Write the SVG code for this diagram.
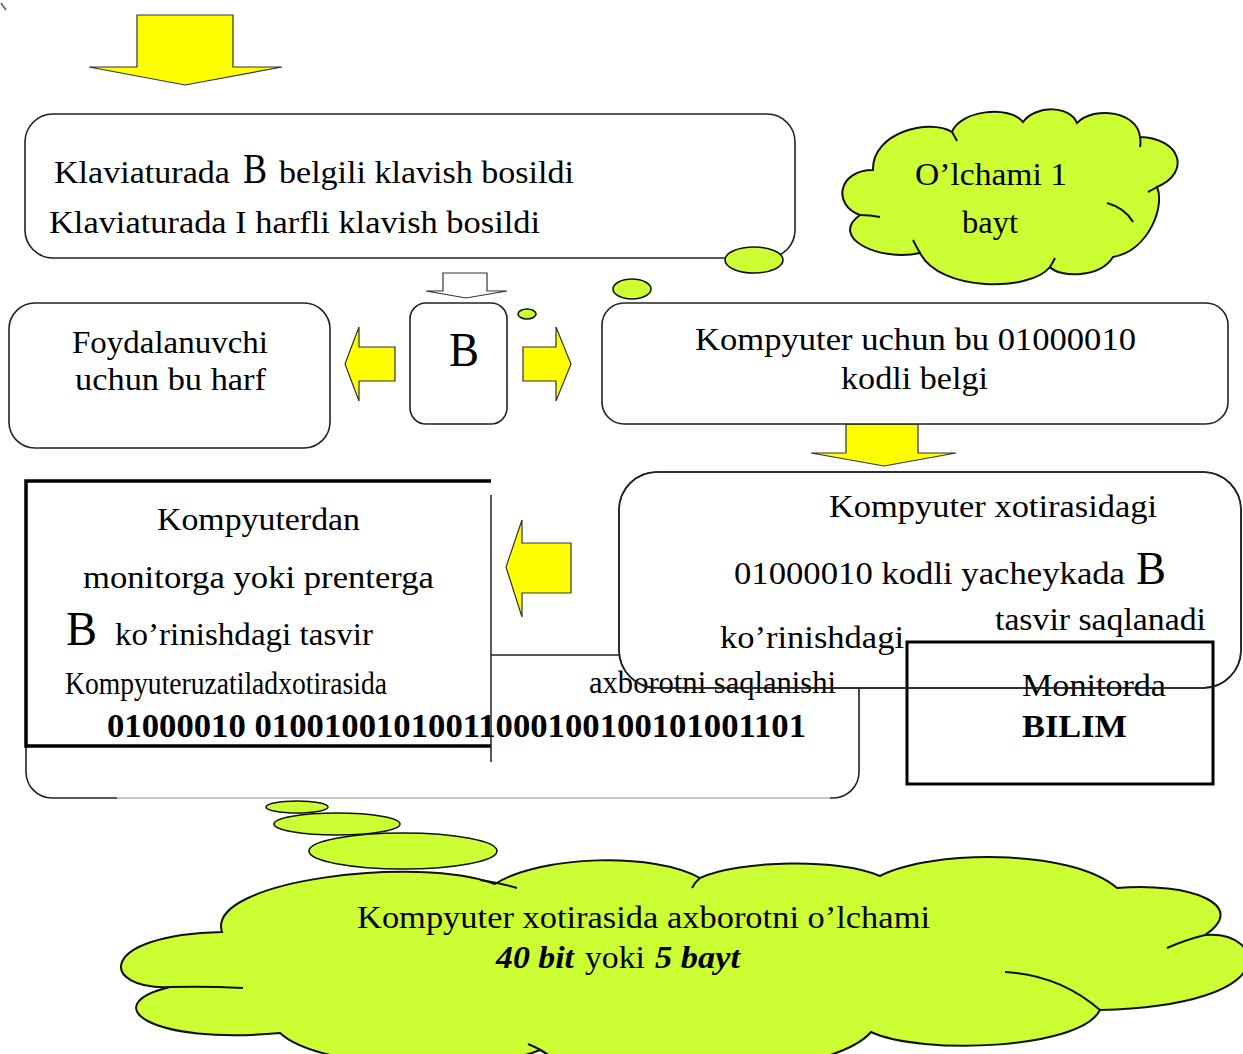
<svg xmlns="http://www.w3.org/2000/svg" width="1243" height="1054" viewBox="0 0 1243 1054">
<defs>
<style>
.t{font-family:"Liberation Serif","Times New Roman",serif;font-size:32px;fill:#000}
.b{font-weight:bold}
.bi{font-weight:bold;font-style:italic}
.box{fill:#fff;stroke:#222;stroke-width:1.6}
.arrow{fill:#ffff00;stroke:#333;stroke-width:1.2;stroke-linejoin:miter}
.hollow{fill:#fff;stroke:#333;stroke-width:1.2}
.cloud{fill:#ccff33;stroke:#111;stroke-width:2}
.bubble{fill:#ccff33;stroke:#111;stroke-width:1.6}
.inner{fill:none;stroke:#111;stroke-width:2}
.thick{fill:none;stroke:#000;stroke-width:3.5}
</style>
</defs>
<rect width="1243" height="1054" fill="#fff"/>
<line x1="1" y1="3" x2="6" y2="10" stroke="#555" stroke-width="1.5"/>

<g id="connectors">
  <polygon class="arrow" points="137,15 233,15 233,67 282,67 185,85 89,67 137,67"/>
  <polygon class="hollow" points="443,273 487,273 487,291 507,291 466,298 426,291 443,291"/>
  <polygon class="arrow" points="395,347 359,347 359,327 345,364 359,401 359,381 395,381"/>
  <polygon class="arrow" points="523,347 556,347 556,327 571,364 556,401 556,381 523,381"/>
  <polygon class="arrow" points="846,424 918,424 918,453 956,453 884,466 811,453 846,453"/>
  <polygon class="arrow" points="571,543 522,543 522,520 506,567 522,617 522,593 571,593"/>
</g>

<g id="keyboard-box">
  <rect class="box" x="25" y="114" width="770" height="144" rx="28"/>
  <text class="t" x="54" y="183" textLength="176" lengthAdjust="spacingAndGlyphs">Klaviaturada</text>
  <text class="t" x="243" y="183" style="font-size:42px" textLength="24" lengthAdjust="spacingAndGlyphs">B</text>
  <text class="t" x="279" y="183" textLength="295" lengthAdjust="spacingAndGlyphs">belgili klavish bosildi</text>
  <text class="t" x="49" y="233" textLength="491" lengthAdjust="spacingAndGlyphs">Klaviaturada I harfli klavish bosildi</text>
</g>

<g id="bubbles-top">
  <ellipse class="bubble" cx="754" cy="260" rx="29" ry="13"/>
  <ellipse class="bubble" cx="632" cy="289" rx="19" ry="10"/>
  <ellipse class="bubble" cx="527" cy="314" rx="9" ry="5"/>
</g>

<g id="size-cloud">
  <path class="cloud" d="M873,170 C872,132 930,118 952,132 C960,110 1010,105 1023,122 C1035,105 1070,105 1077,123 C1095,105 1138,112 1140,137 C1180,138 1192,172 1157,187 C1165,205 1150,250 1113,257 C1100,278 1060,278 1050,267 C1030,292 940,292 920,253 C880,262 828,238 860,215 C832,205 838,170 873,170 Z"/>
  <path class="inner" d="M860,215 Q870,215 880,217 M1157,187 Q1152,190 1148,192 M1107,203 Q1125,208 1133,222 M920,253 Q916,246 913,240 M1050,267 Q1053,262 1055,258 M952,132 Q955,137 957,141 M1140,137 Q1141,142 1140,147"/>
  <text class="t" x="915" y="185" textLength="152" lengthAdjust="spacingAndGlyphs">O’lchami 1</text>
  <text class="t" x="962" y="233" textLength="56" lengthAdjust="spacingAndGlyphs">bayt</text>
</g>

<g id="user-box">
  <rect class="box" x="9" y="303" width="321" height="145" rx="26"/>
  <text class="t" x="72" y="353" textLength="196" lengthAdjust="spacingAndGlyphs">Foydalanuvchi</text>
  <text class="t" x="75" y="390" textLength="191" lengthAdjust="spacingAndGlyphs">uchun bu harf</text>
</g>

<g id="letter-box">
  <rect class="box" x="410" y="303" width="97" height="121" rx="16"/>
  <text class="t" x="449" y="366" style="font-size:48px" textLength="30" lengthAdjust="spacingAndGlyphs">B</text>
</g>

<g id="code-box">
  <rect class="box" x="602" y="303" width="626" height="121" rx="22"/>
  <text class="t" x="695" y="350" textLength="441" lengthAdjust="spacingAndGlyphs">Kompyuter uchun bu 01000010</text>
  <text class="t" x="841" y="389" textLength="147" lengthAdjust="spacingAndGlyphs">kodli belgi</text>
</g>

<g id="memory-box">
  <rect class="box" x="26" y="655" width="833" height="143" rx="26"/>
  <line x1="117" y1="798" x2="830" y2="798" stroke="#c8c8c8" stroke-width="2"/>
</g>

<g id="output-box">
  <rect x="26" y="481" width="465" height="265" fill="#fff"/>
  <polyline class="thick" points="491,481 26,481 26,746 491,746"/>
  <line x1="491" y1="495" x2="491" y2="762" stroke="#222" stroke-width="1.5"/>
  <text class="t" x="157" y="530" textLength="203" lengthAdjust="spacingAndGlyphs">Kompyuterdan</text>
  <text class="t" x="83" y="588" textLength="351" lengthAdjust="spacingAndGlyphs">monitorga yoki prenterga</text>
  <text class="t" x="66" y="645" style="font-size:48px" textLength="31" lengthAdjust="spacingAndGlyphs">B</text>
  <text class="t" x="115" y="645" textLength="258" lengthAdjust="spacingAndGlyphs">ko’rinishdagi tasvir</text>
</g>

<g id="storage-box">
  <rect class="box" x="619" y="472" width="622" height="216" rx="38"/>
  <text class="t" x="829" y="517" textLength="328" lengthAdjust="spacingAndGlyphs">Kompyuter xotirasidagi</text>
  <text class="t" x="734" y="584" textLength="391" lengthAdjust="spacingAndGlyphs">01000010 kodli yacheykada</text>
  <text class="t" x="1136" y="584" style="font-size:46px" textLength="30" lengthAdjust="spacingAndGlyphs">B</text>
  <text class="t" x="995" y="630" textLength="211" lengthAdjust="spacingAndGlyphs">tasvir saqlanadi</text>
  <text class="t" x="720" y="648" textLength="184" lengthAdjust="spacingAndGlyphs">ko’rinishdagi</text>
</g>

<g id="memory-text">
  <text class="t" x="65" y="694" style="font-size:31px" textLength="322" lengthAdjust="spacingAndGlyphs">Kompyuteruzatiladxotirasida</text>
  <text class="t" x="589" y="693" style="font-size:31px" textLength="247" lengthAdjust="spacingAndGlyphs">axborotni saqlanishi</text>
  <text class="t b" x="107" y="737" style="font-size:33px" textLength="699" lengthAdjust="spacingAndGlyphs">01000010 01001001010011000100100101001101</text>
</g>

<g id="monitor-box">
  <rect x="907" y="642" width="306" height="142" fill="none" stroke="#000" stroke-width="3"/>
  <text class="t" x="1022" y="696" textLength="144" lengthAdjust="spacingAndGlyphs">Monitorda</text>
  <text class="t b" x="1022" y="737" textLength="105" lengthAdjust="spacingAndGlyphs">BILIM</text>
</g>

<g id="storage-outline">
  <rect x="619" y="472" width="622" height="216" rx="38" fill="none" stroke="#222" stroke-width="1.6"/>
</g>

<g id="bubbles-bottom">
  <ellipse class="bubble" cx="403" cy="851" rx="94" ry="18"/>
  <ellipse class="bubble" cx="337" cy="824" rx="63" ry="11"/>
  <ellipse class="bubble" cx="297" cy="807" rx="31" ry="6"/>
</g>

<g id="result-cloud">
  <path class="cloud" d="M222,932 C205,880 420,855 495,884 C540,855 655,852 700,878 C740,860 840,858 880,876 C930,850 1070,848 1117,888 C1190,882 1250,905 1205,935 C1265,930 1290,1005 1100,1010 C1080,1050 920,1055 871,1032 C830,1080 600,1090 540,1050 C480,1075 320,1070 280,1033 C150,1045 95,1005 170,987 C100,990 95,935 222,932 Z"/>
  <path class="inner" d="M170,987 Q205,986 243,988 M480,880 Q500,883 517,888 M700,878 Q695,882 692,888 M1205,935 Q1185,940 1167,948 M1100,1010 Q1060,975 1005,972 M528,1044 Q540,1049 547,1054"/>
  <text class="t" x="357" y="928" textLength="573" lengthAdjust="spacingAndGlyphs">Kompyuter xotirasida axborotni o’lchami</text>
  <text class="t bi" x="496" y="968" textLength="78" lengthAdjust="spacingAndGlyphs">40 bit</text>
  <text class="t" x="585" y="968" textLength="60" lengthAdjust="spacingAndGlyphs">yoki</text>
  <text class="t bi" x="655" y="968" textLength="85" lengthAdjust="spacingAndGlyphs">5 bayt</text>
</g>
</svg>
